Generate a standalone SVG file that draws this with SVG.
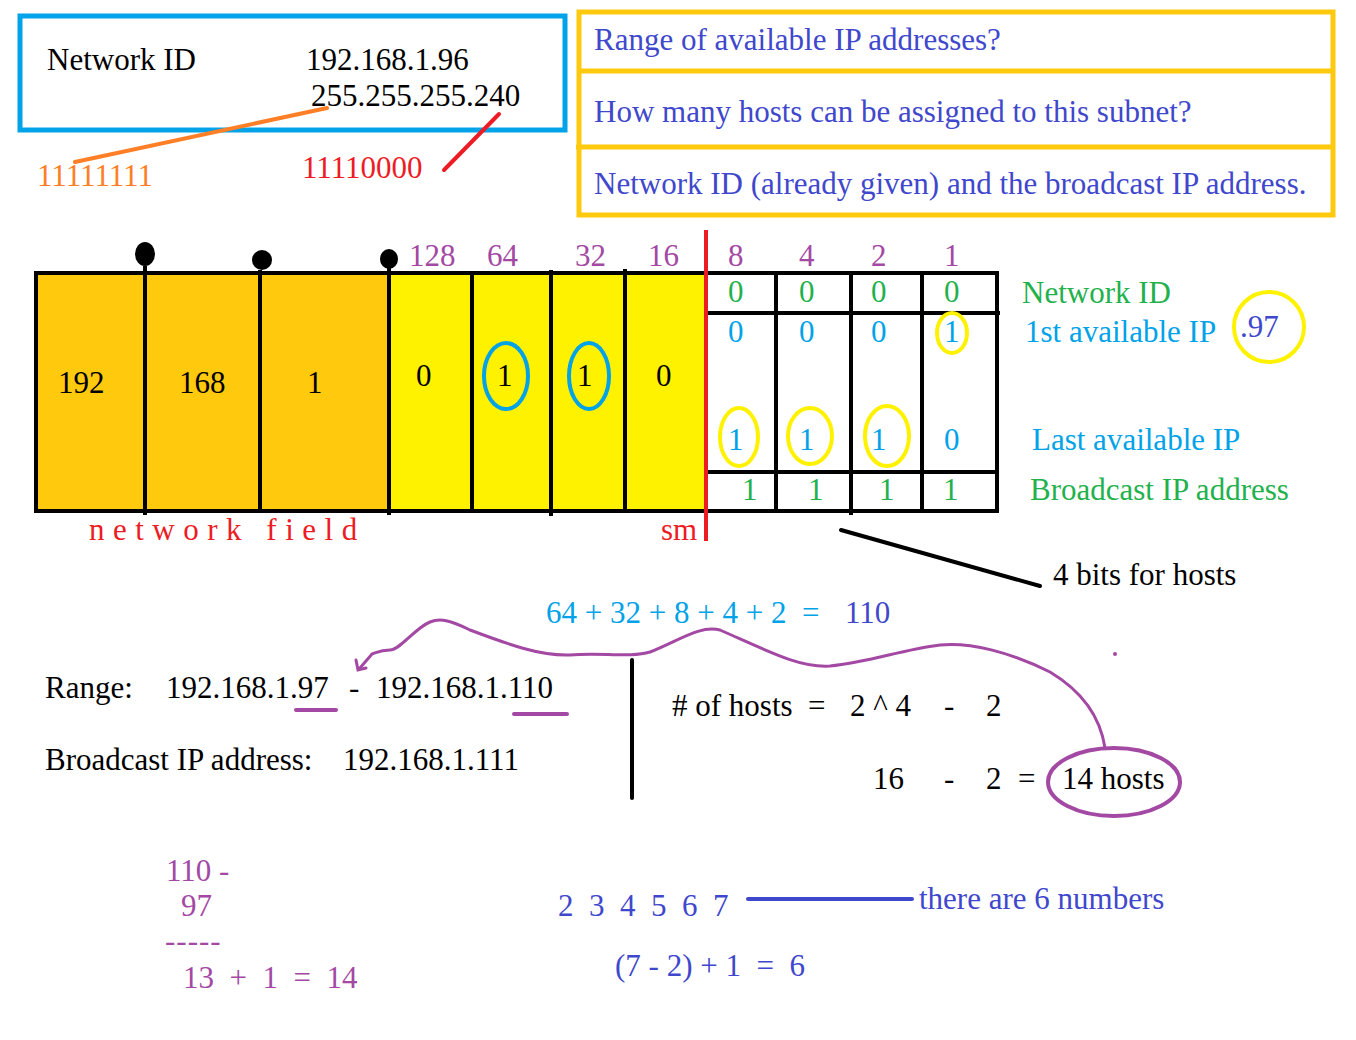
<svg xmlns="http://www.w3.org/2000/svg" width="1356" height="1040" viewBox="0 0 1356 1040">
<style>
text{font-family:"Liberation Serif","Times New Roman",serif;font-size:31px;}
.k{fill:#000}.b{fill:#00a2e8}.db{fill:#3f48cc}.p{fill:#a349a4}.g{fill:#22b14c}.r{fill:#ed1c24}.o{fill:#ff7f27}
.ln{fill:none;stroke:#000;stroke-width:4}
.ov{fill:none;stroke-width:4}
</style>
<rect width="1356" height="1040" fill="#fff"/>
<g id="given">
<rect x="20" y="16" width="545" height="114" fill="none" stroke="#00a2e8" stroke-width="5"/>
<text x="47" y="70" class="k">Network ID</text>
<text x="306" y="70" class="k">192.168.1.96</text>
<text x="311" y="106" class="k">255.255.255.240</text>
<text x="37" y="186" class="o">11111111</text>
<text x="302" y="178" class="r">11110000</text>
</g>
<g id="questions">
<rect x="579" y="12" width="754" height="203" fill="none" stroke="#ffc90e" stroke-width="5"/>
<line x1="579" y1="71" x2="1333" y2="71" stroke="#ffc90e" stroke-width="5"/>
<line x1="576" y1="147" x2="1333" y2="147" stroke="#ffc90e" stroke-width="5"/>
<text x="594" y="50" class="db">Range of available IP addresses?</text>
<text x="594" y="122" class="db">How many hosts can be assigned to this subnet?</text>
<text x="594" y="194" class="db">Network ID (already given) and the broadcast IP address.</text>
</g>
<g id="table">
<rect x="36" y="273" width="353" height="238" fill="#ffc90e"/>
<rect x="389" y="273" width="317" height="238" fill="#fff200"/>
<rect x="706" y="273" width="291" height="238" fill="#fff"/>
<rect x="36" y="273" width="961" height="238" class="ln"/>
<line x1="145" y1="266" x2="145" y2="515" class="ln"/>
<line x1="260" y1="270" x2="260" y2="513" class="ln"/>
<line x1="389" y1="266" x2="389" y2="515" class="ln"/>
<line x1="472" y1="273" x2="472" y2="511" class="ln"/>
<line x1="551" y1="270" x2="551" y2="516" class="ln"/>
<line x1="625" y1="269" x2="625" y2="511" class="ln"/>
<line x1="776" y1="273" x2="776" y2="511" class="ln"/>
<line x1="851" y1="273" x2="851" y2="515" class="ln"/>
<line x1="922" y1="273" x2="922" y2="511" class="ln"/>
<line x1="706" y1="313" x2="1000" y2="313" class="ln"/>
<line x1="706" y1="472" x2="997" y2="472" class="ln"/>
<line x1="706" y1="230" x2="706" y2="541" stroke="#ed1c24" stroke-width="4"/>
<ellipse cx="145" cy="254" rx="10" ry="12" fill="#000"/>
<ellipse cx="262" cy="260" rx="10" ry="10" fill="#000"/>
<ellipse cx="389" cy="259" rx="9" ry="10" fill="#000"/>
<text x="409" y="266" class="p">128</text>
<text x="487" y="266" class="p">64</text>
<text x="575" y="266" class="p">32</text>
<text x="648" y="266" class="p">16</text>
<text x="728" y="266" class="p">8</text>
<text x="799" y="266" class="p">4</text>
<text x="871" y="266" class="p">2</text>
<text x="944" y="266" class="p">1</text>
<text x="58" y="393" class="k">192</text>
<text x="179" y="393" class="k">168</text>
<text x="307" y="393" class="k">1</text>
<text x="416" y="386" class="k">0</text>
<text x="497" y="386" class="k">1</text>
<text x="577" y="386" class="k">1</text>
<text x="656" y="386" class="k">0</text>
<ellipse cx="506" cy="376" rx="22" ry="33" class="ov" stroke="#00a2e8"/>
<ellipse cx="589" cy="376" rx="20" ry="33" class="ov" stroke="#00a2e8"/>
<text x="728" y="302" class="g">0</text>
<text x="799" y="302" class="g">0</text>
<text x="871" y="302" class="g">0</text>
<text x="944" y="302" class="g">0</text>
<text x="728" y="342" class="b">0</text>
<text x="799" y="342" class="b">0</text>
<text x="871" y="342" class="b">0</text>
<text x="944" y="342" class="b">1</text>
<ellipse cx="952" cy="333" rx="15" ry="20" class="ov" stroke="#fff200"/>
<text x="728" y="450" class="b">1</text>
<text x="799" y="450" class="b">1</text>
<text x="871" y="450" class="b">1</text>
<text x="944" y="450" class="b">0</text>
<ellipse cx="739" cy="437" rx="19" ry="29" class="ov" stroke="#fff200"/>
<ellipse cx="810" cy="436" rx="22" ry="28" class="ov" stroke="#fff200"/>
<ellipse cx="887" cy="436" rx="22" ry="30" class="ov" stroke="#fff200"/>
<text x="742" y="500" class="g">1</text>
<text x="808" y="500" class="g">1</text>
<text x="879" y="500" class="g">1</text>
<text x="943" y="500" class="g">1</text>
<text x="89" y="540" class="r" letter-spacing="8.5">network field</text>
<text x="661" y="540" class="r">sm</text>
</g>
<g id="row-labels">
<text x="1022" y="303" class="g">Network ID</text>
<text x="1025" y="342" class="b">1st available IP</text>
<ellipse cx="1269" cy="327" rx="35" ry="35" class="ov" stroke="#fff200"/>
<text x="1240" y="337" class="db">.97</text>
<text x="1032" y="450" class="b">Last available IP</text>
<text x="1030" y="500" class="g">Broadcast IP address</text>
<text x="1053" y="585" class="k">4 bits for hosts</text>
</g>
<g id="calc">
<text x="546" y="623" class="b" xml:space="preserve">64 + 32 + 8 + 4 + 2  =  </text>
<text x="845" y="623" class="db">110</text>
<text x="45" y="698" class="k">Range:</text>
<text x="166" y="698" class="k">192.168.1.97</text>
<text x="349" y="698" class="k">-</text>
<text x="376" y="698" class="k">192.168.1.110</text>
<text x="45" y="770" class="k">Broadcast IP address:</text>
<text x="343" y="770" class="k">192.168.1.111</text>
<text x="672" y="716" class="k"># of hosts</text>
<text x="808" y="716" class="k">=</text>
<text x="850" y="716" class="k">2 ^ 4</text>
<text x="944" y="716" class="k">-</text>
<text x="986" y="716" class="k">2</text>
<text x="873" y="789" class="k">16</text>
<text x="944" y="789" class="k">-</text>
<text x="986" y="789" class="k">2</text>
<text x="1018" y="789" class="k">=</text>
<text x="1062" y="789" class="k">14 hosts</text>
<ellipse cx="1114" cy="782" rx="66" ry="34" class="ov" stroke="#a349a4"/>
<text x="166" y="881" class="p">110 -</text>
<text x="181" y="916" class="p">97</text>
<text x="165" y="951" class="p" font-size="25" letter-spacing="1">-----</text>
<text x="183" y="988" class="p" xml:space="preserve">13  +  1  =  14</text>
<text x="558" y="916" class="db" xml:space="preserve">2  3  4  5  6  7</text>
<text x="919" y="909" class="db">there are 6 numbers</text>
<text x="615" y="976" class="db" xml:space="preserve">(7 - 2) + 1  =  6</text>
</g>
<g id="connectors" fill="none" stroke-linecap="round">
<line x1="75" y1="162" x2="327" y2="108" stroke="#ff7f27" stroke-width="4"/>
<line x1="444" y1="170" x2="499" y2="114" stroke="#ed1c24" stroke-width="4"/>
<line x1="841" y1="530" x2="1040" y2="586" stroke="#000" stroke-width="4"/>
<path d="M1105,748 C1100,715 1080,690 1050,672 C1010,652 970,642 940,645 C900,650 870,662 830,666 C800,668 770,652 720,630 C700,625 680,640 650,652 C630,658 600,652 570,655 C540,656 510,645 470,630 C450,620 440,618 430,622 C415,628 400,650 390,650 C380,650 378,652 372,654 L360,668" stroke="#a349a4" stroke-width="3"/>
<path d="M356,660 L358,670 L366,668" stroke="#a349a4" stroke-width="3"/>
<circle cx="1115" cy="654" r="2" fill="#a349a4" stroke="none"/>
<line x1="296" y1="710" x2="336" y2="710" stroke="#a349a4" stroke-width="4"/>
<line x1="514" y1="714" x2="567" y2="714" stroke="#a349a4" stroke-width="4"/>
<line x1="632" y1="660" x2="632" y2="798" stroke="#000" stroke-width="4"/>
<line x1="748" y1="899" x2="912" y2="899" stroke="#3f48cc" stroke-width="4"/>
</g>
</svg>
